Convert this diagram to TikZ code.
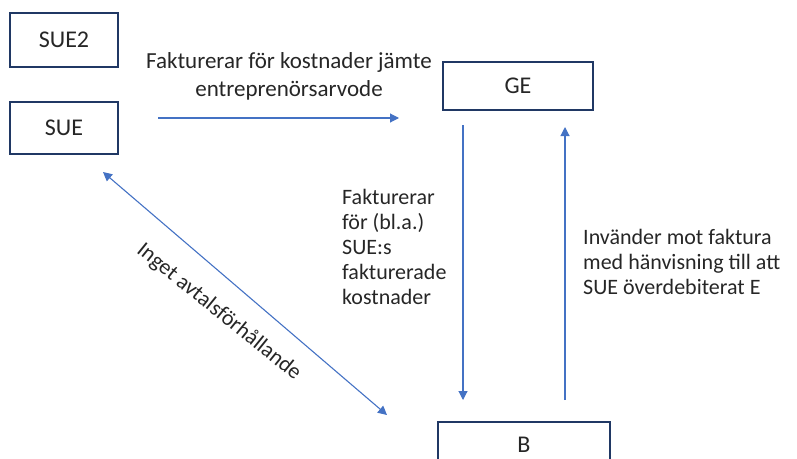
\documentclass[tikz,border=0pt]{standalone}
\usepackage{fontspec}
\setmainfont{Carlito}
\usetikzlibrary{arrows.meta}
\definecolor{boxline}{HTML}{203864}
\definecolor{arrline}{HTML}{4472C4}
\tikzset{
  party/.style={draw=boxline,line width=2.4pt,minimum height=#1,inner sep=0pt,
    font=\fontsize{24}{28}\selectfont},
  arr/.style={draw=arrline,line width=1.1pt,-{Triangle[length=9pt,width=9pt]}},
  lbl/.style={text=black!85,inner sep=0pt,font=\fontsize{22}{25}\selectfont}
}
\begin{document}
\begin{tikzpicture}[x=1pt,y=-1pt]
    \useasboundingbox (0,0) rectangle (797,458);
    \clip (0,0) rectangle (797,458);
    \node[party=54pt,minimum width=108pt,text=black!85] (sue2) at (64,40) {SUE2};
    \node[party=52pt,minimum width=108pt,text=black!85] (sue) at (64,128) {SUE};
    \node[party=48pt,minimum width=150pt,text=black!85] (ge) at (518,86) {GE};
    \node[party=46pt,minimum width=172pt,text=black!85] (b) at (524,445) {B};
    % arrow ends
    \coordinate (h1) at (158,118);
    \coordinate (h2) at (399,118);
    \coordinate (d1) at (463,125);
    \coordinate (d2) at (463,400);
    \coordinate (u1) at (565,400);
    \coordinate (u2) at (565,127);
    \coordinate (s1) at (103,172);
    \coordinate (s2) at (387,415);
    \draw[arr] (h1) -- (h2);
    \draw[arr] (d1) -- (d2);
    \draw[arr] (u1) -- (u2);
    \draw[arr,{Triangle[length=9pt,width=9pt]}-{Triangle[length=9pt,width=9pt]}] (s1) -- (s2);
    \node[lbl,align=center,font=\fontsize{23}{28}\selectfont] (fakt) at (289,76) {Fakturerar för kostnader jämte\\entreprenörsarvode};
    \node[lbl,align=left,anchor=west] (faktsue) at (342,247) {Fakturerar\\för (bl.a.)\\SUE:s\\fakturerade\\kostnader};
    \node[lbl,align=left,anchor=west] (invand) at (583,262) {Invänder mot faktura\\med hänvisning till att\\SUE överdebiterat E};
    \node[lbl,rotate=-39] (avtal) at (219,312) {Inget avtalsförhållande};
\end{tikzpicture}
\end{document}
